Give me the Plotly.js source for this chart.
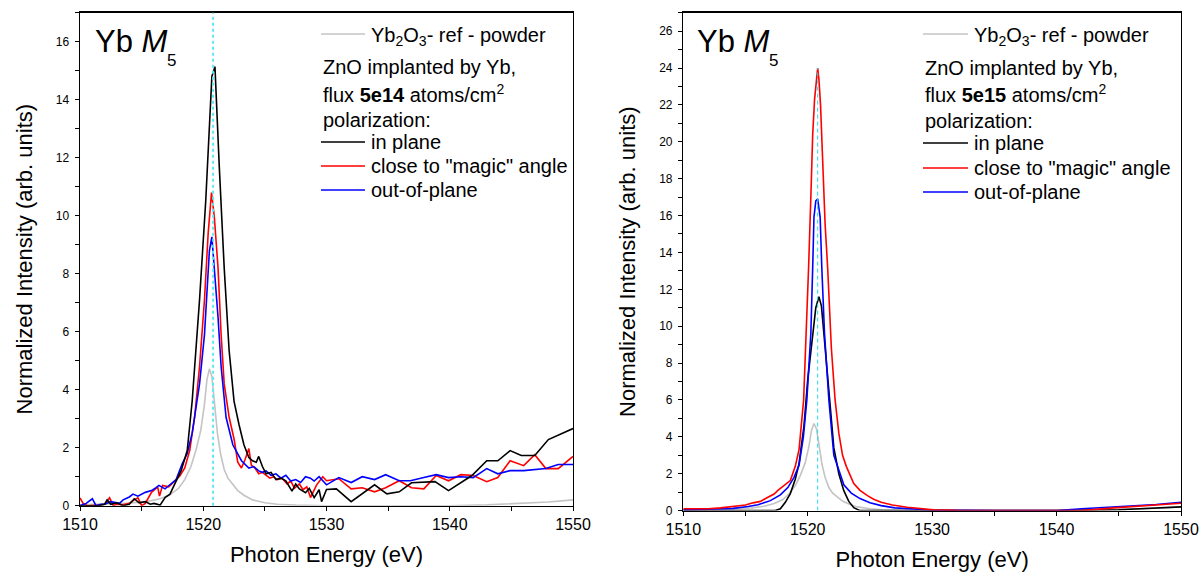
<!DOCTYPE html>
<html>
<head>
<meta charset="utf-8">
<script src="https://cdn.plot.ly/plotly-3.0.1.min.js"></script>
<style>html,body{margin:0;padding:0;background:#fff;}#chart{width:1201px;height:574px;}</style>
</head>
<body>
<div id="chart"></div>
<script>
// ---------- DATA ----------
// Yb2O3 reference powder (same in both panels)
var refE = [1510,1512,1514,1515.5,1516.5,1517.3,1518,1518.5,1519,1519.4,1519.8,1520.1,1520.3,1520.5,1520.7,1520.9,1521.15,1521.4,1521.7,1522,1522.4,1522.8,1523.3,1524,1525,1526,1527.5,1530,1535,1540,1543,1546,1548,1550];
var refI = [0.03,0.05,0.09,0.15,0.24,0.38,0.6,0.9,1.35,1.9,2.6,3.5,4.35,4.72,4.45,3.6,2.5,1.8,1.25,0.95,0.72,0.52,0.36,0.2,0.1,0.05,0.02,0.0,0.0,0.0,0.03,0.08,0.13,0.2];

// Flux 5e14 : in plane (black)
var e14InE = [1510,1510.5,1511,1511.5,1512,1512.2,1512.5,1513,1513.5,1514,1514.4,1514.8,1515.3,1515.7,1516,1516.5,1516.9,1517.3,1517.7,1518.2,1518.7,1519.1,1519.7,1520.2,1520.7,1520.95,1521.3,1521.7,1522.1,1522.5,1522.9,1523.3,1523.7,1524,1524.3,1524.5,1524.8,1525.1,1525.5,1525.9,1526.3,1526.7,1527.2,1527.5,1527.8,1528.3,1528.6,1529,1529.4,1529.6,1530,1530.8,1532,1533.9,1534.9,1535.9,1536.9,1538.8,1539.9,1541.8,1543,1543.9,1544.9,1545.8,1546.9,1548,1550];
var e14InI = [0,0,0,0,0.05,0.2,0.05,0.1,0.0,0.05,0.24,0.1,0.14,0.05,0.08,0.02,0.28,0.4,0.76,1.2,1.9,3.6,7.1,10.5,14.8,15.14,11.7,8.2,5.35,3.6,2.8,2.1,1.66,1.55,1.5,1.7,1.35,1.1,1.15,0.9,0.95,0.86,0.5,0.75,0.58,0.45,0.6,0.28,0.55,0.14,0.56,0.58,0.14,0.72,0.41,0.48,0.79,0.83,0.52,1.04,1.55,1.55,1.9,1.73,1.73,2.28,2.66];

// Flux 5e14 : close to magic angle (red)
var e14MagE = [1510,1510.25,1510.6,1511,1511.5,1512,1512.4,1512.7,1513,1513.5,1514,1514.4,1514.7,1515,1515.3,1515.8,1516.3,1516.45,1516.7,1517.2,1517.5,1518.1,1518.5,1518.9,1519.3,1519.7,1520.1,1520.4,1520.67,1520.9,1521.2,1521.45,1521.7,1522.1,1522.5,1522.8,1523.1,1523.4,1523.7,1523.9,1524.2,1524.5,1524.8,1525.1,1525.4,1525.7,1526,1526.4,1526.8,1527.1,1527.4,1527.8,1528.1,1528.4,1528.7,1529.2,1529.7,1530,1531,1532,1532.9,1533.9,1534.8,1535.9,1536.9,1537.9,1538.9,1539.9,1540.9,1541.9,1543,1543.9,1544.9,1546,1546.9,1547.8,1548.8,1550];
var e14MagI = [0.27,0.08,0,0,0.02,0.05,0.27,0.0,0.05,0.03,0.08,0.2,0.27,0,0.08,0.46,0.65,0.33,0.7,0.65,0.77,1.02,1.3,1.9,3.05,4.8,7.1,9.4,10.8,9.95,8.2,5.9,4.2,3.05,2.3,1.5,1.3,1.6,1.97,1.4,1.3,1.1,1.15,1.05,0.95,1.0,0.9,0.95,0.75,0.85,0.6,0.75,0.55,0.65,0.28,0.72,1.0,0.86,0.93,0.58,0.62,0.48,0.62,0.86,0.62,0.58,1.04,0.86,1.07,1.04,0.83,0.97,1.55,1.38,1.76,1.28,1.28,1.7];

// Flux 5e14 : out-of-plane (blue)
var e14OutE = [1510,1510.5,1511,1511.3,1511.7,1512,1512.5,1513.2,1513.5,1514,1514.3,1514.7,1515.3,1515.8,1516.1,1516.4,1516.9,1517.4,1517.8,1518.3,1518.7,1519.1,1519.7,1520.1,1520.5,1520.7,1520.9,1521.2,1521.45,1521.85,1522.4,1523.1,1523.7,1524.1,1524.5,1524.8,1525.1,1525.5,1525.9,1526.3,1526.7,1527.1,1527.5,1527.9,1528.3,1528.7,1529,1529.4,1530,1531,1532,1532.9,1533.9,1534.8,1535.9,1536.8,1537.9,1538.9,1539.9,1540.9,1541.9,1543,1543.9,1544.9,1546,1547.8,1548.8,1550];
var e14OutI = [0,0.08,0.24,0,0.05,0.05,0.14,0.08,0.2,0.3,0.4,0.33,0.46,0.52,0.6,0.7,0.58,0.77,0.9,1.45,1.8,2.5,4.2,5.9,8.8,9.27,8.2,6.5,4.8,3.05,2.1,1.55,1.3,1.35,1.2,1.15,1.2,1.05,1.1,0.95,1.05,0.85,0.9,0.8,1.0,0.95,0.85,1.0,0.72,0.97,0.8,1.0,0.9,1.07,0.86,0.86,0.97,1.07,0.97,1.0,0.97,1.28,1.1,1.21,1.21,1.28,1.42,1.42];

// Flux 5e15 : in plane (black)
var e15InE = [1510,1517.4,1517.8,1518.2,1518.6,1519.0,1519.3,1519.7,1520.0,1520.4,1520.65,1520.9,1521.1,1521.3,1521.6,1521.85,1522.1,1522.5,1522.9,1523.3,1523.7,1524.2,1530,1540,1545,1550];
var e15InI = [0,0,0.1,0.45,0.92,1.7,2.55,4.6,7.1,9.6,11.0,11.6,11.1,9.6,7.1,5.0,3.4,2.0,1.08,0.5,0.16,0,0,0,0.05,0.2];

// Flux 5e15 : close to magic angle (red)
var e15MagE = [1510,1511,1512,1513,1514,1515,1515.6,1516.2,1516.8,1517.3,1517.6,1518.1,1518.6,1519.0,1519.3,1519.67,1519.85,1520.07,1520.25,1520.4,1520.55,1520.7,1520.8,1520.9,1521.03,1521.2,1521.4,1521.6,1521.9,1522.2,1522.5,1522.8,1523.1,1523.7,1524.2,1524.8,1525.3,1525.9,1526.8,1528,1529,1530.1,1532,1535,1540,1542,1544.6,1547,1550];
var e15MagI = [0.1,0.08,0.1,0.15,0.22,0.3,0.42,0.5,0.72,0.9,1.1,1.35,1.63,2.4,3.3,6.0,9.0,13.2,17.0,20.4,22.3,23.6,24.0,23.4,22.0,19.0,15.5,13.2,8.8,6.0,4.2,3.0,2.4,1.47,1.1,0.81,0.62,0.45,0.3,0.18,0.1,0.04,0.01,0,0,0,0.15,0.25,0.4];

// Flux 5e15 : out-of-plane (blue)
var e15OutE = [1510,1512,1514,1515.2,1516,1517,1517.8,1518.4,1518.9,1519.3,1519.65,1519.93,1520.25,1520.4,1520.5,1520.65,1520.8,1520.9,1521.0,1521.13,1521.35,1521.7,1522.1,1522.5,1522.9,1523.5,1524.2,1525,1525.9,1527,1528.5,1530,1535,1540.1,1542,1545,1548,1550];
var e15OutI = [0.05,0.07,0.12,0.22,0.32,0.54,0.85,1.25,1.8,2.45,4.0,6.0,9.6,13.2,15.9,16.8,16.9,16.4,15.9,13.2,9.6,6.0,3.0,2.2,1.4,0.95,0.65,0.42,0.27,0.15,0.09,0.03,0,0,0.1,0.2,0.33,0.45];

// peak-position marker and ranges
var markerE = 1520.8;
var xRange = [1510, 1550];
var yRangeLeft = [0, 17];
var yRangeRight = [0, 27];
var fluxLeft = "5e14";
var fluxRight = "5e15";

// labels
var labelRef = "Yb<sub>2</sub>O<sub>3</sub>- ref - powder";
var labelIn = "in plane";
var labelMag = 'close to "magic" angle';
var labelOut = "out-of-plane";
var edgeMain = "Yb <i>M</i>";
var edgeSub = "5";

// ---------- STYLE ----------
var W = 1201, H = 574;
var FONT = "Liberation Sans, Arial, Helvetica, sans-serif";
var cRef = "#c4c4c4", cIn = "#000000", cMag = "#ff0000", cOut = "#0000ff";
var LW = 1.6;
function px(x){ return x / W; }
function py(y){ return 1 - y / H; }

function tr(x, y, color, xa, ya, name){
  return {x: x, y: y, type: "scatter", mode: "lines", name: name,
    line: {color: color, width: LW}, xaxis: xa, yaxis: ya, showlegend: false, hoverinfo: "x+y"};
}

var data = [
  tr(refE, refI, cRef, "x", "y", "Yb2O3 ref"),
  tr(e14MagE, e14MagI, cMag, "x", "y", labelMag),
  tr(e14OutE, e14OutI, cOut, "x", "y", labelOut),
  tr(e14InE, e14InI, cIn, "x", "y", labelIn),
  tr(refE, refI, cRef, "x2", "y2", "Yb2O3 ref"),
  tr(e15InE, e15InI, cIn, "x2", "y2", labelIn),
  tr(e15OutE, e15OutI, cOut, "x2", "y2", labelOut),
  tr(e15MagE, e15MagI, cMag, "x2", "y2", labelMag)
];

function xaxisDef(domain, anchor){
  return {domain: domain, anchor: anchor, range: xRange, tickmode: "linear", tick0: 1510, dtick: 10,
    ticks: "outside", ticklen: 4, tickwidth: 1, tickcolor: "#000",
    minor: {dtick: 5, ticks: "outside", ticklen: 4, tickwidth: 1, tickcolor: "#000"},
    showline: true, linecolor: "#000", linewidth: 1.4, mirror: true,
    showgrid: false, zeroline: false,
    tickfont: {family: FONT, size: 16, color: "#000"},
    title: {text: "Photon Energy (eV)", font: {family: FONT, size: 22, color: "#000"}, standoff: 14}};
}
function yaxisDef(domain, anchor, range){
  return {domain: domain, anchor: anchor, range: range, tickmode: "linear", tick0: 0, dtick: 2,
    ticks: "outside", ticklen: 4, tickwidth: 1, tickcolor: "#000",
    minor: {dtick: 1, ticks: "outside", ticklen: 4, tickwidth: 1, tickcolor: "#000"},
    showline: true, linecolor: "#000", linewidth: 1.4, mirror: true,
    showgrid: false, zeroline: false, ticklabelstandoff: 3,
    tickfont: {family: FONT, size: 12, color: "#000"},
    title: {text: "Normalized Intensity (arb. units)", font: {family: FONT, size: 22, color: "#000"}, standoff: 17}};
}

var shapes = [
  {type: "line", xref: "x", yref: "y domain", x0: markerE, x1: markerE, y0: 0, y1: 1,
   line: {color: "#5ce8f5", width: 2, dash: "dot"}, layer: "above"},
  {type: "line", xref: "x2", yref: "y2", x0: markerE, x1: markerE, y0: 0, y1: 24,
   line: {color: "#20dcec", width: 1, dash: "4px,3px"}, layer: "above"}
];

var annotations = [];
function legendBlock(x0, x1, xt, rows, flux){
  // rows: y-pixel of [ref, ZnO, flux, polarization, in, magic, out]
  var lines = [[rows[0], cRef], [rows[4], cIn], [rows[5], cMag], [rows[6], cOut]];
  lines.forEach(function(l){
    shapes.push({type: "line", xref: "paper", yref: "paper", x0: px(x0), x1: px(x1), y0: py(l[0]), y1: py(l[0]),
      line: {color: l[1], width: LW}});
  });
  var f = {family: FONT, size: 20, color: "#000"};
  function ann(x, y, text){
    annotations.push({xref: "paper", yref: "paper", x: px(x), y: py(y), xanchor: "left", yanchor: "middle",
      text: text, showarrow: false, font: f});
  }
  ann(xt, rows[0] + 2, labelRef);
  ann(x0, rows[1], "ZnO implanted by Yb,");
  ann(x0, rows[2] - 2, "flux <b>" + flux + "</b> atoms/cm<sup>2</sup>");
  ann(x0, rows[3], "polarization:");
  ann(xt, rows[4], labelIn);
  ann(xt, rows[5], labelMag);
  ann(xt, rows[6], labelOut);
}
legendBlock(321, 365, 369, [34, 67, 95, 120, 142, 166, 190], fluxLeft);
legendBlock(923, 968, 972, [34, 68, 95, 121, 143, 168, 192], fluxRight);

// "Yb M5" edge label in each panel (subscript placed separately to match its deep offset)
[[93, 165], [695, 767]].forEach(function(p){
  annotations.push({xref: "paper", yref: "paper", x: px(p[0]), y: py(42), xanchor: "left", yanchor: "middle",
    text: edgeMain, showarrow: false, font: {family: FONT, size: 31, color: "#000"}});
  annotations.push({xref: "paper", yref: "paper", x: px(p[1]), y: py(60), xanchor: "left", yanchor: "middle",
    text: edgeSub, showarrow: false, font: {family: FONT, size: 17, color: "#000"}});
});

var layout = {
  width: W, height: H,
  margin: {l: 0, r: 0, t: 0, b: 0},
  paper_bgcolor: "#fff", plot_bgcolor: "#fff",
  showlegend: false,
  font: {family: FONT, color: "#000"},
  xaxis: xaxisDef([px(80), px(573)], "y"),
  yaxis: yaxisDef([py(505.7), py(12.7)], "x", yRangeLeft),
  xaxis2: xaxisDef([px(683.3), px(1181)], "y2"),
  yaxis2: yaxisDef([py(510.6), py(12.7)], "x2", yRangeRight),
  shapes: shapes,
  annotations: annotations
};

Plotly.newPlot("chart", data, layout, {staticPlot: true, displayModeBar: false});
</script>
</body>
</html>
